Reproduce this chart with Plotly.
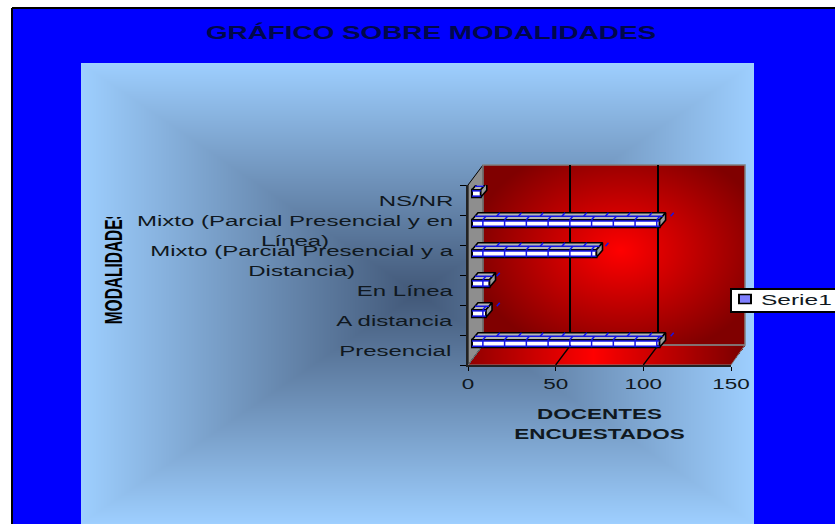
import base64
import zlib
import struct
import numpy as np
import plotly.graph_objects as go

W, H = 835, 524

categories = ["Presencial", "A distancia", "En Línea",
              "Mixto (Parcial Presencial y a<br>Distancia)",
              "Mixto (Parcial Presencial y en<br>Línea)", "NS/NR"]
values = [107, 8, 10, 71, 107, 5]
x_ticks = [0, 50, 100, 150]
label_centers = [395, 394, 405, 302, 295, 416]


def png_uri(rgba):
    h, w = rgba.shape[:2]
    raw = b"".join(b"\x00" + rgba[i].tobytes() for i in range(h))

    def chunk(tag, data):
        return struct.pack(">I", len(data)) + tag + data + struct.pack(">I", zlib.crc32(tag + data))
    png = b"\x89PNG\r\n\x1a\n" + chunk(b"IHDR", struct.pack(">IIBBBBB", w, h, 8, 6, 0, 0, 0))
    png += chunk(b"IDAT", zlib.compress(raw)) + chunk(b"IEND", b"")
    return "data:image/png;base64," + base64.b64encode(png).decode()


def mix(t, a, b):
    t = t[..., None]
    return np.uint8(np.clip(np.array(a) * (1 - t) + np.array(b) * t, 0, 255))


def with_alpha(rgb, mask=None):
    alpha = np.full(rgb.shape[:2], 255, dtype=np.uint8) if mask is None else np.uint8(mask * 255)
    return np.dstack([rgb, alpha])


def img(source, x0, y0, x1, y1):
    return dict(source=source, xref="paper", yref="paper", x=x0 / W, y=1 - y0 / H,
                sizex=(x1 - x0) / W, sizey=(y1 - y0) / H, sizing="stretch",
                xanchor="left", yanchor="top", layer="below")


def poly(points, fill, line="rgba(0,0,0,0)", width=1):
    path = "M" + "L".join(f"{x / W},{1 - y / H}" for x, y in points) + "Z"
    return dict(type="path", path=path, xref="paper", yref="paper", fillcolor=fill,
                line=dict(color=line, width=width), layer="below")


# fondo: marco azul, panel celeste (degradado rectangular), pared y piso rojos
frame = with_alpha(np.full((H - 8, W - 13, 3), (0, 0, 255), dtype=np.uint8))
yy, xx = np.mgrid[0:461, 0:673]
t = np.maximum(np.abs(xx - 336) / 336, np.abs(yy - 230) / 230)
panel = with_alpha(mix(t, (66, 88, 120), (158, 207, 255)))

yy, xx = np.mgrid[0:180, 0:262]
r = np.sqrt(((xx - 137) / 150) ** 2 + ((yy - 85) / 110) ** 2)
wall = with_alpha(mix(np.clip(r, 0, 1), (255, 0, 0), (128, 0, 0)))

yy, xx = np.mgrid[0:20, 0:277]
r = np.abs(xx - 125) / 145
floor_mask = (xx >= 15 - yy * 0.75) & (xx <= 277 - yy * 0.75)
floor = with_alpha(mix(np.clip(r, 0, 1), (255, 0, 0), (128, 0, 0)), floor_mask)

# medidas en unidades de los ejes (1 unidad x = 1.75 px, 1 categoria = 30 px)
PX = 150 / 263
PY = 1 / 30
front_base = 4 * PX
rise = 6.5 * PY
front_h = 7.5 * PY
top_dx = 6 * PX
top_dy = 7 * PY
brick = 12.4

ys = [i + rise for i in range(len(values))]

top_x, top_y, cap_x, cap_y = [], [], [], []
blue_x, blue_y = [], []
for v, y in zip(values, ys):
    end = front_base + v
    yt = y + front_h / 2
    yb = y - front_h / 2
    top_x += [front_base, front_base + top_dx, end + top_dx, end, front_base, None]
    top_y += [yt, yt + top_dy, yt + top_dy, yt, yt, None]
    cap_x += [end, end + top_dx, end + top_dx, end, end, None]
    cap_y += [yb, yb + top_dy, yt + top_dy, yt, yb, None]
    # lineas azules de los ladrillos
    blue_x += [front_base + top_dx / 2, end + top_dx / 2, None, front_base, end, None, front_base, end, None]
    blue_y += [yt + top_dy / 2, yt + top_dy / 2, None, yt - front_h * 0.15, yt - front_h * 0.15, None,
               yb + front_h * 0.15, yb + front_h * 0.15, None]
    p = front_base + brick / 2
    while p < end:
        blue_x += [p, p, None, p, p + top_dx / 2, None, p + brick / 2 + top_dx / 2, p + brick / 2 + top_dx, None]
        blue_y += [yb, yt, None, yt, yt + top_dy / 2, None, yt + top_dy / 2, yt + top_dy, None]
        p += brick

floor_x, floor_y = [], []
for v in x_ticks[1:3]:
    floor_x += [v, v + 15 * PX, None]
    floor_y += [-0.5, -0.5 + 20 * PY, None]

fig = go.Figure()
# eje de la pared del fondo, solo para las lineas de division
fig.add_trace(go.Scatter(x=[0], y=[0], mode="markers", marker_opacity=0, showlegend=False,
                         hoverinfo="skip", xaxis="x", yaxis="y"))
fig.add_trace(go.Scatter(x=floor_x, y=floor_y, mode="lines", line=dict(color="black", width=1.3),
                         showlegend=False, hoverinfo="skip", xaxis="x2", yaxis="y2"))
fig.add_trace(go.Scatter(x=top_x, y=top_y, mode="lines", fill="toself", fillcolor="#b4b4b4",
                         line=dict(color="black", width=1.6), showlegend=False, hoverinfo="skip",
                         xaxis="x2", yaxis="y2"))
fig.add_trace(go.Scatter(x=cap_x, y=cap_y, mode="lines", fill="toself", fillcolor="#9a9a9a",
                         line=dict(color="black", width=1.6), showlegend=False, hoverinfo="skip",
                         xaxis="x2", yaxis="y2"))
fig.add_trace(go.Bar(x=values, y=ys, base=front_base, orientation="h", width=front_h, name="Serie1",
                     marker=dict(color="white", line=dict(color="black", width=2)),
                     xaxis="x2", yaxis="y2"))
fig.add_trace(go.Scatter(x=blue_x, y=blue_y, mode="lines", line=dict(color="#1414e6", width=1.5),
                         showlegend=False, hoverinfo="skip", xaxis="x2", yaxis="y2"))

font = "Liberation Sans"
annotations = [dict(text=c, x=cx / W, xref="paper", y=i, yref="y2", xanchor="center", yanchor="middle",
                    align="center", showarrow=False, font=dict(family=font, size=15.5, color="#101820"))
               for i, (c, cx) in enumerate(zip(categories, label_centers))]
annotations.append(dict(text="<b>MODALIDADES</b>", x=113 / W, y=1 - 267 / H, xref="paper", yref="paper",
                        textangle=-90, showarrow=False, xanchor="center", yanchor="middle",
                        font=dict(family=font, size=24, color="black")))

fig.update_layout(
    width=W, height=H, autosize=False, margin=dict(l=0, r=0, t=0, b=0, autoexpand=False),
    paper_bgcolor="white", plot_bgcolor="rgba(0,0,0,0)",
    title=dict(text="<b>GRÁFICO SOBRE MODALIDADES</b>", x=431 / W, xref="paper", xanchor="center",
               y=1 - 32 / H, yref="paper", yanchor="middle",
               font=dict(family=font, size=19, color="#00084a")),
    xaxis=dict(domain=[483 / W, 745 / W], range=[0, 150], tickvals=x_ticks[1:3], showticklabels=False,
               showgrid=True, gridcolor="black", gridwidth=1.6, zeroline=False, anchor="y", fixedrange=True),
    yaxis=dict(domain=[1 - 345 / H, 1 - 165 / H], range=[-0.5, 5.5], showticklabels=False, showgrid=False,
               zeroline=False, anchor="x", fixedrange=True),
    xaxis2=dict(domain=[468 / W, 731 / W], range=[0, 150], tickvals=x_ticks, showgrid=False, zeroline=False,
                ticks="outside", ticklen=4, tickcolor="black", showline=True, linecolor="#222222", linewidth=1.5,
                tickfont=dict(family=font, size=15.5, color="#101820"), anchor="y2", fixedrange=True,
                title=dict(text="<b>DOCENTES<br>ENCUESTADOS</b>", standoff=17,
                           font=dict(family=font, size=15.5, color="#101820"))),
    yaxis2=dict(domain=[1 - 365 / H, 1 - 185 / H], range=[-0.5, 5.5], tickvals=[i - 0.5 for i in range(7)],
                ticktext=[""] * 7, showgrid=False, zeroline=False, ticks="outside", ticklen=6, tickcolor="black",
                showline=True, linecolor="#222222", linewidth=1.5, anchor="x2", fixedrange=True),
    images=[img(png_uri(frame), 13, 8, W, H), img(png_uri(panel), 81, 63, 754, H),
            img(png_uri(wall), 483, 165, 745, 345), img(png_uri(floor), 468, 345, 745, 365)],
    shapes=[poly([(468, 185), (483, 165), (483, 345), (468, 365)], "#8e8e8e", "black", 1),
            poly([(483, 165), (745, 165), (745, 345), (483, 345)], "rgba(0,0,0,0)", "#808080", 1.5),
            poly([(483, 345), (745, 345), (731, 365), (468, 365)], "rgba(0,0,0,0)", "#808080", 1),
            dict(type="line", xref="paper", yref="paper", x0=12 / W, x1=12 / W, y0=0, y1=1 - 8 / H,
                 line=dict(color="black", width=2), layer="above"),
            dict(type="line", xref="paper", yref="paper", x0=12 / W, x1=1, y0=1 - 8 / H, y1=1 - 8 / H,
                 line=dict(color="black", width=2), layer="above")],
    annotations=annotations,
    showlegend=True,
    legend=dict(x=730 / W, y=1 - 288 / H, xanchor="left", yanchor="top", bgcolor="white", bordercolor="black",
                borderwidth=1.5, font=dict(family=font, size=15.5, color="#101820"), itemwidth=30,
                entrywidth=110, entrywidthmode="pixels"),
)

# el original esta estirado a lo ancho: se estira el texto igual; sin margen de pagina
stretch = """
document.body.style.margin = '0';
document.documentElement.style.overflow = 'hidden';
var s = function (q, v, o) {
  document.querySelectorAll(q).forEach(function (e) {
    e.style.transformBox = 'fill-box';
    e.style.transformOrigin = o;
    e.style.transform = v;
  });
};
var add = function (q, v) {
  document.querySelectorAll(q).forEach(function (e) {
    e.setAttribute('transform', (e.getAttribute('transform') || '') + ' ' + v);
  });
};
document.querySelectorAll('.annotation-text').forEach(function (e) {
  var tall = e.textContent.indexOf('MODALIDADES') >= 0;
  e.style.transformBox = 'fill-box';
  e.style.transformOrigin = 'center';
  e.style.transform = tall ? 'scaleX(0.645)' : 'scaleX(1.55)';
  if (tall) { e.style.clipPath = 'inset(-5% 7% -5% 0)'; }
});
add('.x2tick text', 'scale(1.45,1)');
s('.legendtext', 'translateX(-9px) scaleX(1.58)', 'left');
s('.gtitle', 'scaleX(1.466)', 'center');
s('.x2title', 'scaleX(1.45)', 'center');
add('.legend .legendpoints path', 'translate(-5,0) scale(1,0.75)');
document.querySelectorAll('.legend .legendpoints path').forEach(function (e) { e.style.fill = '#7f7fff'; });
var bg = document.querySelector('.legend .bg');
bg.setAttribute('height', 23);
bg.setAttribute('width', 130);
document.querySelector('.legend .scrollbox').removeAttribute('clip-path');
document.querySelectorAll('.legend .traces').forEach(function (e) {
  var m = e.getAttribute('transform').match(/,\\s*([\\d.\\-]+)/);
  e.setAttribute('transform', 'translate(0,' + (parseFloat(m[1]) - 7) + ')');
});
"""
fig.write_html("out.html", post_script=stretch, config={"displayModeBar": False})
